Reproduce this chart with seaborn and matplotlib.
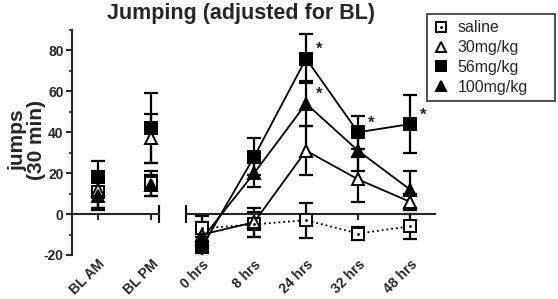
import numpy as np
import pandas as pd
import matplotlib
matplotlib.use("Agg")
import matplotlib.pyplot as plt
from matplotlib.lines import Line2D
from matplotlib.legend_handler import HandlerTuple
from matplotlib.ticker import MultipleLocator
import seaborn as sns

sns.set_style("ticks")
plt.rcParams['font.family'] = ['Liberation Sans', 'DejaVu Sans']
plt.rcParams['axes.unicode_minus'] = False

# categories
bl_labels = ["BL AM", "BL PM"]
hr_labels = ["0 hrs", "8 hrs", "24 hrs", "32 hrs", "48 hrs"]
groups = ["saline", "30mg/kg", "56mg/kg", "100mg/kg"]

# baseline means / SEM
saline_bl = [11, 15]
saline_bl_err = [8, 6]
mg30_bl = [12, 37]
mg30_bl_err = [9, 12]
mg56_bl = [18, 42]
mg56_bl_err = [8, 17]
mg100_bl = [9, 14]
mg100_bl_err = [7, 5]

# time course means / SEM
saline_hr = [-7, -5, -3, -9.5, -6]
saline_hr_err = [6, 6, 8.5, 3, 6]
mg30_hr = [-10, -4, 31, 17, 6]
mg30_hr_err = [6, 7, 12, 11, 4]
mg56_hr = [-16, 28, 76, 40, 44]
mg56_hr_err = [5, 9, 12, 8, 14]
mg100_hr = [-12, 20, 54, 31, 12]
mg100_hr_err = [7, 7, 11, 10, 9]

# significance stars (group, time index)
stars = [("56mg/kg", 2), ("100mg/kg", 2), ("56mg/kg", 3), ("56mg/kg", 4)]

bl_means = [saline_bl, mg30_bl, mg56_bl, mg100_bl]
bl_errs = [saline_bl_err, mg30_bl_err, mg56_bl_err, mg100_bl_err]
hr_means = [saline_hr, mg30_hr, mg56_hr, mg100_hr]
hr_errs = [saline_hr_err, mg30_hr_err, mg56_hr_err, mg100_hr_err]

markers = {"saline": "s", "30mg/kg": "^", "56mg/kg": "s", "100mg/kg": "^"}
faces = {"saline": "white", "30mg/kg": "white", "56mg/kg": "black", "100mg/kg": "black"}
lstyles = {"saline": ":", "30mg/kg": "-", "56mg/kg": "-", "100mg/kg": "-"}

bl_df = pd.DataFrame({
    "group": np.repeat(groups, len(bl_labels)),
    "pos": np.tile(np.arange(len(bl_labels)), len(groups)),
    "jumps": np.concatenate(bl_means),
    "err": np.concatenate(bl_errs),
})
hr_df = pd.DataFrame({
    "group": np.repeat(groups, len(hr_labels)),
    "pos": np.tile(np.arange(len(hr_labels)), len(groups)),
    "jumps": np.concatenate(hr_means),
    "err": np.concatenate(hr_errs),
})

fig = plt.figure(figsize=(5.58, 2.99), dpi=100)
ax1 = fig.add_axes([72/558, 1-255/299, 87/558, 225/299])
ax2 = fig.add_axes([186/558, 1-255/299, 249/558, 225/299])

MS = 9
for ax, df in [(ax1, bl_df), (ax2, hr_df)]:
    for g in groups:
        d = df[df.group == g]
        ax.errorbar(d.pos, d.jumps, yerr=d.err, fmt='none', ecolor='black',
                    elinewidth=1.6, capsize=5, capthick=1.6, zorder=2)
    for g in groups:
        d = df[df.group == g]
        ls = lstyles[g] if ax is ax2 else 'none'
        sns.lineplot(data=d, x="pos", y="jumps", ax=ax, color='black',
                     linestyle=ls, linewidth=1.3, marker=markers[g],
                     markersize=MS, markerfacecolor=faces[g],
                     markeredgecolor='black', markeredgewidth=1.4, zorder=3)
        if g == "saline":
            ax.plot(d.pos, d.jumps, linestyle='none', marker='.', ms=2,
                    color='black', zorder=4)

for ax, labels in [(ax1, bl_labels), (ax2, hr_labels)]:
    ax.set_ylim(-20, 90)
    ax.spines['top'].set_visible(False)
    ax.spines['right'].set_visible(False)
    ax.spines['bottom'].set_position(('data', 0))
    ax.spines['bottom'].set_linewidth(1.5)
    ax.set_xticks(range(len(labels)))
    ax.set_xticklabels(labels, rotation=45, ha='right', va='top',
                       rotation_mode='anchor', fontweight='bold', fontsize=10)
    ax.tick_params(axis='x', length=4, width=1.5, pad=27)
    ax.set_xlabel("")
    ax.set_ylabel("")

ax1.set_xlim(-0.49, 1.15)
ax2.set_xlim(-0.31, 4.48)

ax1.spines['left'].set_linewidth(1.5)
ax1.set_yticks([-20, 0, 20, 40, 60, 80])
ax1.yaxis.set_minor_locator(MultipleLocator(10))
ax1.tick_params(axis='y', which='major', length=4, width=1.5, labelsize=10, pad=2)
ax1.tick_params(axis='y', which='minor', length=2, width=1.2)
for t in ax1.get_yticklabels():
    t.set_fontweight('bold')

ax2.spines['left'].set_visible(False)
ax2.set_yticks([])

# axis break caps
ax1.plot([1.15], [0], marker='|', ms=13, mew=1.5, color='black', clip_on=False)
ax2.plot([-0.31], [0], marker='|', ms=13, mew=1.5, color='black', clip_on=False)

# stars
for g, i in stars:
    d = hr_df[(hr_df.group == g) & (hr_df.pos == i)].iloc[0]
    ax2.annotate("*", (d.pos, d.jumps), xytext=(7, 1), textcoords='offset points',
                 fontsize=12, fontweight='bold', ha='left', va='bottom')

fig.text(241/558, 1-14/299, "Jumping (adjusted for BL)", ha='center', va='center',
         fontsize=15.5, fontweight='bold')
fig.text(27/558, 1-140/299, "jumps\n(30 min)", ha='center', va='center',
         rotation=90, fontsize=15, fontweight='bold', linespacing=1.0)

handles = []
for g in groups:
    h = Line2D([], [], linestyle='none', marker=markers[g], ms=MS - 1.5,
               markerfacecolor=faces[g], markeredgecolor='black', markeredgewidth=1.4)
    if g == "saline":
        h = (h, Line2D([], [], linestyle='none', marker='.', ms=2, color='black'))
    handles.append(h)
leg = fig.legend(handles, groups, loc='upper left',
                 bbox_to_anchor=(427/558, 1-100/299, 128/558, 86/299), mode='expand',
                 fontsize=11.5, frameon=True, fancybox=False, edgecolor='black',
                 handlelength=1.0, handletextpad=0.5, borderpad=0.4, labelspacing=0.3,
                 borderaxespad=0, handler_map={tuple: HandlerTuple(ndivide=1)})
leg.get_frame().set_linewidth(1.2)

fig.savefig("out.png", dpi=100)
